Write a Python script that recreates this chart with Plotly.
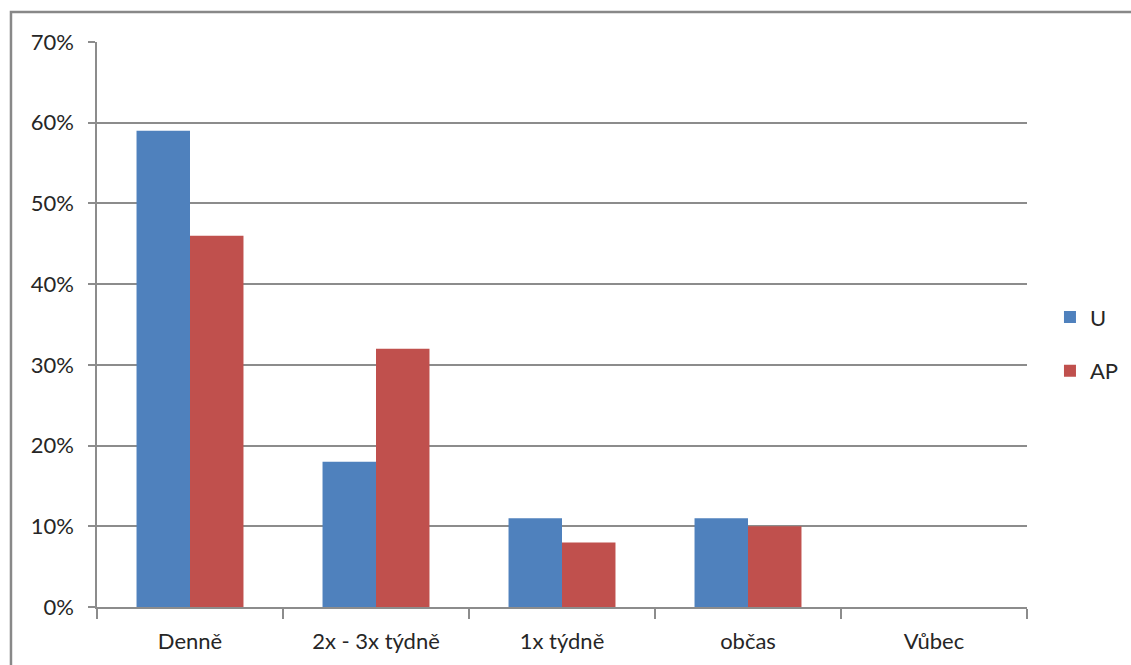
import plotly.graph_objects as go

categories = ["Denně", "2x - 3x týdně", "1x týdně", "občas", "Vůbec"]
series_u = [0.59, 0.18, 0.11, 0.11, 0.0]
series_ap = [0.46, 0.32, 0.08, 0.10, 0.0]
y_ticks = [0, 0.1, 0.2, 0.3, 0.4, 0.5, 0.6, 0.7]
y_tick_labels = ["0%", "10%", "20%", "30%", "40%", "50%", "60%", "70%"]

FONT = "Lato"
TEXT = "#262626"
GRID = "#8c8c8c"

fig = go.Figure()
fig.add_trace(go.Bar(name="U", x=categories, y=series_u,
                     marker=dict(color="#4f81bd", line=dict(width=0)),
                     legendgroup="u"))
fig.add_trace(go.Bar(name="AP", x=categories, y=series_ap,
                     marker=dict(color="#c0504d", line=dict(width=0)),
                     legendgroup="ap"))

# outer chart frame
fig.add_shape(type="rect", xref="paper", yref="paper",
              x0=-0.0925, x1=1.3, y0=-0.3, y1=1.0531,
              line=dict(color="#888888", width=2.5), fillcolor="rgba(0,0,0,0)")

fig.update_layout(
    width=1131, height=665,
    margin=dict(l=97, r=104, t=42, b=58, autoexpand=False),
    paper_bgcolor="white", plot_bgcolor="white",
    barmode="group", bargap=0.425, bargroupgap=0,
    font=dict(family=FONT, size=22, color=TEXT),
    legend=dict(x=1.0247, y=0.465, xanchor="left", yanchor="middle",
                font=dict(family=FONT, size=22, color=TEXT),
                tracegroupgap=22, bgcolor="rgba(0,0,0,0)"),
    xaxis=dict(showline=True, linecolor=GRID, linewidth=1.5,
               ticks="outside", tickson="boundaries", ticklen=10,
               tickcolor=GRID, tickwidth=1.5, showgrid=False,
               ticklabelstandoff=14,
               tickfont=dict(family=FONT, size=22, color=TEXT)),
    yaxis=dict(range=[0, 0.7], tickvals=y_ticks, ticktext=y_tick_labels,
               showline=True, linecolor=GRID, linewidth=1.5,
               ticks="outside", ticklen=7, tickcolor=GRID, tickwidth=1.5,
               showgrid=True, gridcolor=GRID, gridwidth=1.5,
               zeroline=False, ticklabelstandoff=10,
               tickfont=dict(family=FONT, size=22, color=TEXT)),
)

fig.write_html("out.html")
